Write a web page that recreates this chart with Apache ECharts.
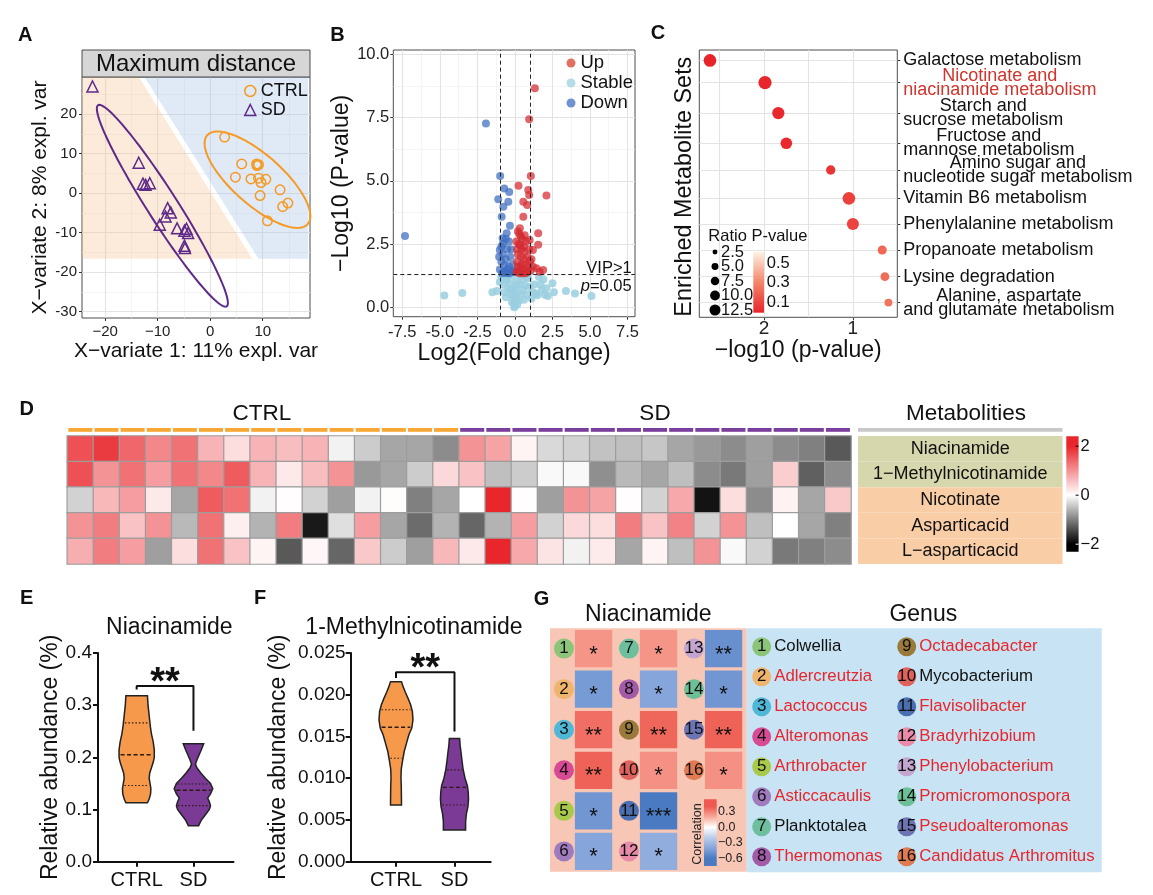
<!DOCTYPE html>
<html>
<head>
<meta charset="utf-8">
<script src="https://cdn.jsdelivr.net/npm/echarts@6.0.0/dist/echarts.min.js"></script>
<style>html,body{margin:0;padding:0;background:#fff;}#chart{width:1153px;height:895px;}</style>
</head>
<body>
<div id="chart"></div>
<script>
const FONT = '"Liberation Sans", Arial, Helvetica, sans-serif';

// ================= DATA =================
// --- Panel A (PLS-DA scores) ---
const aCtrl = [[2.75,14.2],[6.0,7.4],[8.85,7.4],[9.2,7.2],[8.9,7.0],[4.8,4.05],[7.76,3.6],[9.2,3.8],[10.6,3.5],[9.67,2.7],[9.5,-0.6],[13.3,0.84],[14.8,-2.5],[13.8,-3.4],[10.9,-7.0]];
const aSd = [[-22.4,27.0],[-13.6,7.7],[-12.8,2.4],[-12.3,2.1],[-11.5,2.5],[-8.1,-3.8],[-7.5,-4.9],[-8.5,-5.9],[-9.6,-8.0],[-6.3,-8.9],[-4.9,-9.5],[-4.2,-10.1],[-4.9,-13.3],[-4.8,-13.9],[-4.5,-9.0]];
// ellipse: centre x, centre y, half major vector x, y, horizontal half width
const aEllipseCtrl = [9.0, 3.4, 7.6, -12.2, 6.6];
const aEllipseSd = [-9.1, -3.2, 12.0, -25.55, 3.4];
// maximum-distance prediction regions (vertices)
const aRegionLeft = [[-24.4,29.4],[-13.6,29.4],[8.0,-16.6],[-24.4,-16.6]];
const aRegionRight = [[-12.5,29.4],[18.65,29.4],[18.65,-16.6],[9.2,-16.6]];
const aXTicks = [-20,-10,0,10];
const aYTicks = [-30,-20,-10,0,10,20];
const aXMinor = [-15,-5,5,15];
const aYMinor = [-25,-15,-5,5,15,25];

// --- Panel B (volcano) ---
const bUp = [[1.33,8.66],[0.95,7.43],[1.06,5.19],[0.24,4.81],[0.89,4.64],[0.95,4.44],[2.10,4.42],[0.56,4.17],[0.82,4.04],[0.56,3.58],[1.55,2.93],[1.55,2.47],[0.33,3.13],[0.98,2.66],[1.20,2.27],[1.43,1.54],[1.88,1.48],[1.65,1.41],
  [0.10,1.40],[0.15,1.80],[0.20,2.10],[0.25,2.50],[0.30,2.90],[0.35,1.60],[0.40,2.00],[0.45,2.30],[0.50,2.70],[0.55,1.50],[0.60,1.90],[0.65,2.20],[0.70,1.70],[0.75,2.60],[0.80,1.45],[0.85,2.00],[0.90,1.60],[0.20,3.00],[0.30,1.35],[0.50,1.35],[0.70,1.35],[0.10,2.60],[0.40,2.80],[0.60,2.40],[1.00,1.80],[0.95,2.30],[0.20,1.60],[0.45,1.70],[0.85,1.40],[1.10,1.90],[1.20,1.60],[0.15,2.30],[0.35,2.45],[0.65,2.85],[0.25,1.45],[1.05,1.45]];
const bDown = [[-7.32,2.82],[-1.93,7.27],[-0.98,5.19],[-1.11,4.27],[-0.71,4.70],[-0.38,4.56],[-0.44,4.17],[-0.77,3.98],[-0.88,3.58],[-0.33,3.22],[-0.82,2.73],[-0.55,2.93],[-1.00,2.27],
  [-1.00,1.50],[-0.90,1.80],[-0.80,2.10],[-0.70,1.40],[-0.60,1.90],[-0.50,2.30],[-0.40,1.60],[-0.30,2.00],[-0.20,1.45],[-0.50,1.50],[-0.80,2.50],[-0.40,2.60],[-0.15,1.70],[-0.60,2.70],[-0.90,2.40],[-0.35,1.35],[-0.70,1.65],[-1.05,2.00],[-0.25,2.30],[-0.55,1.35],[-0.85,1.35],[-0.10,1.40]];
const bStable = [[-4.7,0.47],[-3.5,0.57],[3.4,0.65],[4.0,0.55],[5.1,0.45],[2.5,0.95],[1.9,1.1],[2.2,0.45],[1.5,0.48],[1.8,0.7],[2.0,0.5],[1.2,0.6],[1.0,0.8],[-1.2,0.65],[-1.5,0.6],[-0.8,0.9],[-0.5,1.1],[0.5,1.1],[0.3,0.9],[0.0,0.05],[0.1,0.3],[-0.1,0.4],[0.2,0.6],[-0.3,0.7],[0.4,0.5],[-0.2,0.2],[0.6,0.3],[-0.6,0.4],[0.8,0.5],[1.3,0.9],[1.6,1.2],[0.9,1.15],[-0.9,1.2],[-0.4,0.95],[0.7,0.85],[-0.7,0.6],[0.0,0.8],[0.05,1.0],[-0.05,0.15],[0.15,0.1],[2.6,0.6],[1.1,0.35],[-1.0,1.0],[0.35,1.25],[-0.15,1.25],[-0.25,0.5],[0.25,0.25],[-0.45,0.75],[0.55,0.7],[0.0,0.35],[-0.1,0.6],[0.1,0.85],[1.4,0.55],[1.7,0.9],[2.1,0.75],[-0.65,1.15],[0.75,1.2],[-0.05,0.0]];
const bXTicks = [-7.5,-5,-2.5,0,2.5,5,7.5];
const bYTicks = [0,2.5,5,7.5,10];
const bXMinor = [-6.25,-3.75,-1.25,1.25,3.75,6.25];
const bYMinor = [1.25,3.75,6.25,8.75];
const bFoldCut = [-1, 1];
const bPCut = 1.3;

// --- Panel C (enrichment) ---
const pathways = ['Galactose metabolism','Nicotinate and\nniacinamide metabolism','Starch and\nsucrose metabolism','Fructose and\nmannose metabolism','Amino sugar and\nnucleotide sugar metabolism','Vitamin B6 metabolism','Phenylalanine metabolism','Propanoate metabolism','Lysine degradation','Alanine, aspartate\nand glutamate metabolism'];
const pathwayPos = [96.1, 87.8, 76.4, 65.1, 55.1, 44.5, 34.9, 25.2, 15.2, 5.5];
const pathwayLogP = [2.61, 1.99, 1.84, 1.75, 1.25, 1.045, 1.0, 0.67, 0.64, 0.60];
const pathwayRatio = [16.5, 18, 15.5, 14, 9, 16.5, 15, 8.5, 8, 6.5];
const pathwayP = [0.0025, 0.010, 0.014, 0.018, 0.056, 0.09, 0.10, 0.21, 0.23, 0.25];
const pathwayHighlight = [1];
const cXTicks = [1, 2];
const cXGrid = [1, 1.5, 2, 2.5];
const cXMin = 0.5, cXMax = 2.73;
const ratioLegend = [2.5, 5.0, 7.5, 10.0, 12.5];
const pLegend = [0.5, 0.3, 0.1];

// --- Panel D (heatmap) ---
const sampleGroups = Array(15).fill('CTRL').concat(Array(15).fill('SD'));
const samples = sampleGroups.map((g, i) => g + (i % 15 + 1));
const metabolites = ['Niacinamide','1−Methylnicotinamide','Nicotinate','Asparticacid','L−asparticacid'];
const metabClass = [0, 0, 1, 1, 1];
const heatRows = [
  [1.6,1.8,1.4,1.1,1.3,0.7,0.3,0.7,0.6,0.7,-0.1,-0.4,-0.7,-0.7,-0.9, 1.0,0.85,0.1,-0.3,-0.35,-0.48,-0.5,-0.45,-0.7,-0.8,-0.9,-0.75,-0.9,-1.0,-1.3],
  [1.6,1.0,1.3,0.9,1.3,1.1,1.5,0.7,0.2,0.6,1.0,-0.8,-0.7,-0.4,0.35, 0.55,-0.5,-0.4,-0.05,-0.05,-0.88,-0.55,-0.7,-0.5,-0.9,-1.05,-0.75,0.45,-1.25,-0.9],
  [-0.35,0.65,0.9,0.2,-0.7,1.5,1.3,-0.1,0.02,-0.35,-0.75,-0.1,0.03,-1.0,-0.7, 0.0,2.0,0.02,-0.75,1.0,0.85,0.02,-0.35,0.8,-1.85,0.3,-0.9,0.12,-0.7,0.5],
  [1.0,1.2,0.55,1.0,-0.55,1.3,0.15,-0.6,1.2,-1.8,-0.25,0.9,-0.7,-1.15,-0.6, -1.2,-0.6,0.9,-0.35,0.35,0.3,1.2,0.55,1.15,-0.35,1.0,-0.5,0.0,-0.7,-1.0],
  [0.75,1.2,0.9,-0.75,0.3,1.3,0.55,0.1,-1.3,0.08,-1.2,0.5,-0.4,-0.75,0.65, 0.2,2.0,0.8,0.25,-0.1,0.18,-0.7,0.1,-0.5,1.0,-0.05,-0.35,-1.05,-1.0,-0.9]
];
const heatLegend = [2, 0, -2];

// --- Panels E / F (violins) ---
const groups = ['CTRL', 'SD'];
const eCtrlProfile = [[0.318,0.19],[0.30,0.20],[0.28,0.22],[0.26,0.24],[0.245,0.26],[0.23,0.29],[0.215,0.31],[0.20,0.31],[0.19,0.29],[0.18,0.26],[0.17,0.23],[0.16,0.22],[0.15,0.235],[0.14,0.25],[0.13,0.245],[0.12,0.22],[0.113,0.19]];
const eSdProfile = [[0.226,0.18],[0.215,0.14],[0.205,0.10],[0.195,0.06],[0.187,0.035],[0.18,0.06],[0.17,0.13],[0.16,0.21],[0.15,0.30],[0.14,0.34],[0.13,0.30],[0.122,0.25],[0.115,0.28],[0.107,0.30],[0.10,0.28],[0.09,0.21],[0.08,0.14],[0.069,0.09]];
const eCtrlQ = [0.146, 0.205, 0.266];
const eSdQ = [0.1075, 0.137, 0.149];
const eBracket = [[0,0.330],[0,0.3366],[1,0.3366],[1,0.251]];
const fCtrlProfile = [[0.02157,0.094],[0.0210,0.12],[0.0203,0.16],[0.0195,0.21],[0.0188,0.25],[0.0180,0.28],[0.0170,0.29],[0.0160,0.27],[0.0152,0.22],[0.0142,0.18],[0.0132,0.14],[0.0120,0.11],[0.0111,0.09],[0.0100,0.085],[0.0091,0.09],[0.0080,0.092],[0.0068,0.094]];
const fSdProfile = [[0.01477,0.088],[0.0140,0.095],[0.0132,0.11],[0.0120,0.13],[0.0111,0.147],[0.0100,0.18],[0.0091,0.22],[0.0083,0.235],[0.0075,0.24],[0.0066,0.23],[0.0058,0.205],[0.0048,0.19],[0.0038,0.19]];
const fCtrlQ = [0.0124, 0.0161, 0.0182];
const fSdQ = [0.0068, 0.0089, 0.0110];
const fBracket = [[0,0.0220],[0,0.02269],[1,0.02269],[1,0.0156]];

// --- Panel G (genus correlation) ---
const genera = ['Colwellia','Adlercreutzia','Lactococcus','Alteromonas','Arthrobacter','Asticcacaulis','Planktotalea','Thermomonas','Octadecabacter','Mycobacterium','Flavisolibacter','Bradyrhizobium','Phenylobacterium','Promicromonospora','Pseudoalteromonas','Candidatus Arthromitus'];
const genusCorr = [0.25,-0.45,0.35,0.38,-0.47,-0.40,0.25,-0.40,0.37,0.26,-0.60,-0.36,-0.50,-0.47,0.38,0.26];
const genusStars = ['*','*','**','**','*','*','*','*','**','*','***','*','**','*','**','*'];
const genusHighlight = [0,1,1,1,1,1,0,1,1,0,1,1,1,1,1,1];
const corrLegend = [0.3, 0.0, -0.3, -0.6];

// ================= STYLES =================
const A_ORANGE = '#f59a23', A_PURPLE = '#5e2a8a';
const V_ORANGE = '#f7994b', V_PURPLE = '#7b3a96';
const D_ORANGE = '#f7a733', D_PURPLE = '#7b3e9c';
const genusColors = ['#8cc47a','#f0b56c','#4fb8d8','#d84a94','#a8c94a','#a07bbd','#6dbf9e','#a35aa8','#9a7a3a','#e0625c','#4a6fb0','#e88aa8','#c3a5cf','#6cbf96','#6c74b4','#e07a52'];
const TXT = '#111';
const sizeOf = r => 3.11 * Math.sqrt(r);

// ================= HELPERS =================
const series = [];
const add = s => { series.push(Object.assign({animation:false, emphasis:{disabled:true}}, s)); return series.length - 1; };
function gridLines(xMaj, xMin, yMaj, yMin) {
  const d = [];
  const minor = {color:'#f1f1f1', width:0.7, type:'solid'};
  const major = {color:'#e3e3e3', width:1.1, type:'solid'};
  xMin.forEach(v => d.push({xAxis:v, lineStyle:minor}));
  yMin.forEach(v => d.push({yAxis:v, lineStyle:minor}));
  xMaj.forEach(v => d.push({xAxis:v, lineStyle:major}));
  yMaj.forEach(v => d.push({yAxis:v, lineStyle:major}));
  return {silent:true, symbol:['none','none'], label:{show:false}, z:1, animation:false, data:d, emphasis:{disabled:true}};
}
function halfWidthAt(prof, v) {
  for (let k = 0; k < prof.length - 1; k++) {
    const [v1, h1] = prof[k], [v2, h2] = prof[k + 1];
    if (v <= v1 && v >= v2) { const t = (v - v1) / (v2 - v1); return h1 + t * (h2 - h1); }
  }
  return 0;
}
function violinRender(profiles, quarts, colors) {
  return function (params, api) {
    const i = params.dataIndex;
    const prof = profiles[i];
    const left = prof.map(p => api.coord([i - p[1], p[0]]));
    const right = prof.slice().reverse().map(p => api.coord([i + p[1], p[0]]));
    const children = [{type:'polygon', shape:{points:left.concat(right)}, style:{fill:colors[i], stroke:'#222', lineWidth:1.5}}];
    quarts[i].forEach((q, k) => {
      const hw = halfWidthAt(prof, q);
      const a = api.coord([i - hw, q]), b = api.coord([i + hw, q]);
      children.push({type:'line', shape:{x1:a[0] + 1.5, y1:a[1], x2:b[0] - 1.5, y2:b[1]},
        style:{stroke:'#2a1a10', lineWidth:k === 1 ? 1.4 : 1.1, lineDash:k === 1 ? [4, 2.5] : [1.5, 2]}});
    });
    return {type:'group', children};
  };
}
function txt(text, x, y, size, o) {
  o = o || {};
  const al = o.align || 'center', va = o.va || 'middle';
  return {type:'text', x, y, rotation:o.rot || 0, z:50, silent:true,
    style:{text, fill:o.color || TXT, fontSize:size, fontFamily:FONT, fontWeight:o.weight || 'normal',
      align:al, verticalAlign:va, textAlign:al, textVerticalAlign:va, rich:o.rich}};
}
function rect(x, y, w, h, fill, stroke, lw) {
  return {type:'rect', z:40, silent:true, shape:{x, y, width:w, height:h}, style:{fill, stroke:stroke || null, lineWidth:lw || 0}};
}
function grad(stops) { return new echarts.graphic.LinearGradient(0, 0, 0, 1, stops.map(s => ({offset:s[0], color:s[1]}))); }

// ================= SERIES =================
// Panel A
add({type:'custom', name:'regions', xAxisIndex:0, yAxisIndex:0, z:2, silent:true,
  data:[[0,0],[1,0]],
  renderItem:(params, api) => {
    const reg = [aRegionLeft, aRegionRight][params.dataIndex];
    return {type:'polygon', shape:{points:reg.map(p => api.coord(p))},
      style:{fill:['rgba(247,190,140,0.32)','rgba(160,190,230,0.33)'][params.dataIndex]}};
  }});
add({type:'custom', name:'ellipses', xAxisIndex:0, yAxisIndex:0, z:3, silent:true,
  data:[aEllipseCtrl, aEllipseSd],
  renderItem:(params, api) => {
    const cx = api.value(0), cy = api.value(1), ax = api.value(2), ay = api.value(3), b = api.value(4);
    const pts = [];
    for (let k = 0; k <= 120; k++) {
      const t = 2 * Math.PI * k / 120;
      pts.push(api.coord([cx + ax * Math.cos(t) + b * Math.sin(t), cy + ay * Math.cos(t)]));
    }
    return {type:'polyline', shape:{points:pts}, style:{stroke:[A_ORANGE, A_PURPLE][params.dataIndex], lineWidth:2, fill:null}};
  }});
add({type:'scatter', name:'CTRL', xAxisIndex:0, yAxisIndex:0, z:4, data:aCtrl, symbol:'circle', symbolSize:9.5,
  itemStyle:{color:'rgba(0,0,0,0)', borderColor:A_ORANGE, borderWidth:1.5, opacity:1},
  markLine:gridLines(aXTicks, aXMinor, aYTicks, aYMinor)});
add({type:'scatter', name:'SD', xAxisIndex:0, yAxisIndex:0, z:4, data:aSd, symbol:'triangle', symbolSize:11,
  itemStyle:{color:'rgba(0,0,0,0)', borderColor:A_PURPLE, borderWidth:1.5, opacity:1}});

// Panel B
add({type:'scatter', name:'Stable', xAxisIndex:1, yAxisIndex:1, z:3, data:bStable, symbolSize:8,
  itemStyle:{color:'#9acfe0', opacity:0.85},
  markLine:{silent:true, symbol:['none','none'], label:{show:false}, z:6, animation:false,
    lineStyle:{type:[4,3], color:'#222', width:1},
    data:bFoldCut.map(v => ({xAxis:v})).concat([{yAxis:bPCut}])}});
add({type:'scatter', name:'Down', xAxisIndex:1, yAxisIndex:1, z:4, data:bDown, symbolSize:8,
  itemStyle:{color:'#3b6cc0', opacity:0.72}});
add({type:'scatter', name:'Up', xAxisIndex:1, yAxisIndex:1, z:4, data:bUp, symbolSize:8,
  itemStyle:{color:'#d42a30', opacity:0.72},
  markLine:gridLines(bXTicks, bXMinor, bYTicks, bYMinor)});

// Panel C
const cIdx = add({type:'scatter', name:'pathways', xAxisIndex:2, yAxisIndex:2, z:3,
  data:pathwayLogP.map((x, i) => [x, pathwayPos[i], pathwayRatio[i], pathwayP[i]]),
  symbolSize:v => sizeOf(v[2]), itemStyle:{opacity:1},
  markLine:gridLines(cXGrid, [], pathwayPos, [])});
// category labels, anchored at the right edge of the panel at each set's position
const cRich = {
  k:{align:'center', fontSize:18, lineHeight:14, color:TXT, fontFamily:FONT},
  r:{align:'center', fontSize:18, lineHeight:14, color:'#d0342c', fontFamily:FONT}
};
add({type:'scatter', name:'pathwayLabels', xAxisIndex:2, yAxisIndex:2, z:3, silent:true, symbolSize:0, clip:false,
  itemStyle:{opacity:1},
  data:pathways.map((p, i) => ({value:[cXMin, pathwayPos[i]], name:p})),
  label:{show:true, position:'right', distance:6, rich:cRich,
    formatter:params => {
      const i = params.dataIndex;
      const st = pathwayHighlight.indexOf(i) >= 0 ? 'r' : 'k';
      return pathways[i].split('\n').map(l => '{' + st + '|' + l + '}').join('\n');
    }}});

// Panel D
const heatData = [];
heatRows.forEach((row, r) => row.forEach((v, c) => heatData.push([c, r, v])));
const dIdx = add({type:'heatmap', xAxisIndex:3, yAxisIndex:3, data:heatData,
  itemStyle:{borderColor:'#9d9d9d', borderWidth:1.2}});
add({type:'bar', xAxisIndex:4, yAxisIndex:4, barCategoryGap:'8%',
  data:sampleGroups.map(g => ({value:1, itemStyle:{color:g === 'CTRL' ? D_ORANGE : D_PURPLE}}))});
add({type:'bar', xAxisIndex:5, yAxisIndex:5, barWidth:'100%',
  data:metabolites.map((m, i) => ({value:1, name:m, itemStyle:{color:metabClass[i] === 0 ? '#d6d7ad' : '#f9cea7'}})),
  label:{show:true, position:'inside', formatter:'{b}', fontSize:18, color:TXT}});

// Panels E, F
function violinPanel(ax, profiles, quarts, bracket) {
  add({type:'custom', xAxisIndex:ax, yAxisIndex:ax, z:3, silent:true, data:[[0,0],[1,0]],
    renderItem:violinRender(profiles, quarts, [V_ORANGE, V_PURPLE])});
  add({type:'line', xAxisIndex:ax, yAxisIndex:ax, z:4, data:bracket, symbol:'none', silent:true,
    lineStyle:{color:'#111', width:2}});
  add({type:'scatter', xAxisIndex:ax, yAxisIndex:ax, z:5, silent:true, symbolSize:0, itemStyle:{opacity:1},
    data:[[(bracket[1][0] + bracket[2][0]) / 2, bracket[1][1]]],
    label:{show:true, position:'inside', formatter:'**', fontSize:38, fontWeight:'bold', color:TXT, offset:[0,-3]}});
}
violinPanel(6, [eCtrlProfile, eSdProfile], [eCtrlQ, eSdQ], eBracket);
violinPanel(7, [fCtrlProfile, fSdProfile], [fCtrlQ, fSdQ], fBracket);

// Panel G
const gIdx = add({type:'scatter', xAxisIndex:8, yAxisIndex:8, z:3, symbol:'rect', symbolSize:[37.3, 37.3],
  itemStyle:{opacity:1},
  data:genusCorr.map((c, i) => ({value:[Math.floor(i / 6) + 0.67, i % 6 + 0.5, c], name:genusStars[i]})),
  label:{show:true, position:'inside', formatter:'{b}', fontSize:22, color:TXT, offset:[0, 6]}});
add({type:'scatter', xAxisIndex:8, yAxisIndex:8, z:3, symbol:'circle', symbolSize:20,
  data:genera.map((g, i) => ({value:[Math.floor(i / 6) + 0.215, i % 6 + 0.5], name:String(i + 1), itemStyle:{color:genusColors[i], opacity:1}})),
  label:{show:true, position:'inside', formatter:'{b}', fontSize:17, color:TXT}});
add({type:'scatter', xAxisIndex:9, yAxisIndex:9, z:3, symbol:'circle', symbolSize:19,
  data:genera.map((g, i) => ({value:[Math.floor(i / 8) + 0.1034, i % 8 + 0.613], name:String(i + 1), itemStyle:{color:genusColors[i], opacity:1}})),
  label:{show:true, position:'inside', formatter:'{b}', fontSize:17, color:TXT}});
add({type:'scatter', xAxisIndex:9, yAxisIndex:9, z:3, symbolSize:0, itemStyle:{opacity:1},
  data:genera.map((g, i) => ({value:[Math.floor(i / 8) + 0.1034, i % 8 + 0.613], name:g,
    label:{color:genusHighlight[i] ? '#e8252b' : TXT}})),
  label:{show:true, position:'right', distance:12.5, formatter:'{b}', fontSize:16.8}});

// ================= AXES =================
const tickStyle = {color:'#333', width:1};
const xAxis = [
  {gridIndex:0, type:'value', min:-24.4, max:19, axisLine:{show:false, onZero:false}, splitLine:{show:false},
    axisTick:{show:true, customValues:aXTicks, length:3, lineStyle:tickStyle},
    axisLabel:{customValues:aXTicks, showMinLabel:true, showMaxLabel:true, formatter:v => v < 0 ? '−' + Math.abs(v) : String(v), fontSize:15, color:'#222', margin:6},
    name:'X−variate 1: 11% expl. var', nameLocation:'middle', nameGap:23, nameTextStyle:{fontSize:21, color:TXT}},
  {gridIndex:1, type:'value', min:-8.1, max:8.0, axisLine:{show:false, onZero:false}, splitLine:{show:false},
    axisTick:{show:true, customValues:bXTicks, length:3, lineStyle:tickStyle},
    axisLabel:{customValues:bXTicks, showMinLabel:true, showMaxLabel:true, formatter:v => v.toFixed(1), fontSize:16.5, color:'#222', margin:7},
    name:'Log2(Fold change)', nameLocation:'middle', nameGap:25, nameTextStyle:{fontSize:23, color:TXT}},
  {gridIndex:2, type:'value', inverse:true, min:cXMin, max:cXMax, axisLine:{show:false, onZero:false}, splitLine:{show:false},
    axisTick:{show:true, customValues:cXTicks, length:3, lineStyle:tickStyle},
    axisLabel:{customValues:cXTicks, showMinLabel:true, showMaxLabel:true, formatter:v => String(v), fontSize:19, color:'#222', margin:2},
    name:'−log10 (p-value)', nameLocation:'middle', nameGap:16, nameTextStyle:{fontSize:23, color:TXT}},
  {gridIndex:3, type:'category', data:samples, show:false},
  {gridIndex:4, type:'category', data:samples, show:false},
  {gridIndex:5, type:'value', min:0, max:1, show:false},
  {gridIndex:6, type:'value', min:-0.681, max:1.705, axisLine:{onZero:false, lineStyle:{color:TXT, width:2}}, splitLine:{show:false},
    axisTick:{customValues:[0, 1], length:5, lineStyle:{color:TXT, width:2}},
    axisLabel:{customValues:[0, 1], showMinLabel:true, showMaxLabel:true, formatter:v => groups[Math.round(v)], fontSize:20, color:TXT, margin:9}},
  {gridIndex:7, type:'value', min:-0.776, max:1.619, axisLine:{onZero:false, lineStyle:{color:TXT, width:2}}, splitLine:{show:false},
    axisTick:{customValues:[0, 1], length:5, lineStyle:{color:TXT, width:2}},
    axisLabel:{customValues:[0, 1], showMinLabel:true, showMaxLabel:true, formatter:v => groups[Math.round(v)], fontSize:20, color:TXT, margin:9}},
  {gridIndex:8, type:'value', min:0, max:3.026, show:false},
  {gridIndex:9, type:'value', min:0, max:2.448, show:false}
];
const yAxis = [
  {gridIndex:0, type:'value', min:-31.6, max:29.4, axisLine:{show:false, onZero:false}, splitLine:{show:false},
    axisTick:{show:true, customValues:aYTicks, length:3, lineStyle:tickStyle},
    axisLabel:{customValues:aYTicks, showMinLabel:true, showMaxLabel:true, formatter:v => String(v), fontSize:15, color:'#222', margin:5},
    name:'X−variate 2: 8% expl. var', nameLocation:'middle', nameGap:31.5, nameTextStyle:{fontSize:21, color:TXT}},
  {gridIndex:1, type:'value', min:-0.37, max:10.17, axisLine:{show:false, onZero:false}, splitLine:{show:false},
    axisTick:{show:true, customValues:bYTicks, length:3, lineStyle:tickStyle},
    axisLabel:{customValues:bYTicks, showMinLabel:true, showMaxLabel:true, formatter:v => v.toFixed(1), fontSize:16.5, color:'#222', margin:4},
    name:'−Log10 (P-value)', nameLocation:'middle', nameGap:21.8, nameTextStyle:{fontSize:23, color:TXT}},
  {gridIndex:2, type:'value', position:'right', min:0, max:100, axisLine:{show:false, onZero:false}, splitLine:{show:false},
    axisTick:{show:true, customValues:pathwayPos, length:3, lineStyle:tickStyle},
    axisLabel:{show:false}},
  {gridIndex:3, type:'category', data:metabolites, inverse:true, show:false},
  {gridIndex:4, type:'value', min:0, max:1, show:false},
  {gridIndex:5, type:'category', data:metabolites, inverse:true, show:false},
  {gridIndex:6, type:'value', min:0, max:0.4, interval:0.1, splitLine:{show:false},
    axisLine:{show:true, onZero:false, lineStyle:{color:TXT, width:2}},
    axisTick:{show:true, length:5, lineStyle:{color:TXT, width:2}},
    axisLabel:{formatter:v => v.toFixed(1), fontSize:19, color:TXT, margin:6},
    name:'Relative abundance (%)', nameLocation:'middle', nameGap:34.6, nameTextStyle:{fontSize:23, color:TXT}},
  {gridIndex:7, type:'value', min:0, max:0.025, interval:0.005, splitLine:{show:false},
    axisLine:{show:true, onZero:false, lineStyle:{color:TXT, width:2}},
    axisTick:{show:true, length:5, lineStyle:{color:TXT, width:2}},
    axisLabel:{formatter:v => v.toFixed(3), fontSize:19, color:TXT, margin:5},
    name:'Relative abundance (%)', nameLocation:'middle', nameGap:60, nameTextStyle:{fontSize:23, color:TXT}},
  {gridIndex:8, type:'value', min:0, max:6, inverse:true, show:false},
  {gridIndex:9, type:'value', min:0, max:8.133, inverse:true, show:false}
];

// ================= GRAPHICS (titles, legends, colour bars) =================
const g = [];
[['A',25.3,35],['B',337.5,35],['C',658,33],['D',26.8,409],['E',26.7,598],['F',260,598],['G',541.5,599]]
  .forEach(l => g.push(txt(l[0], l[1], l[2], 20, {weight:'bold'})));
// A strip
g.push(rect(82, 50, 228, 27, '#d6d6d6', '#4d4d4d', 1));
g.push(txt('Maximum distance', 196, 64, 24));
// B thresholds text
g.push(txt('VIP>1', 631.7, 268.3, 16.5, {align:'right'}));
g.push(txt('{i|p}=0.05', 631.7, 286.7, 16.5, {align:'right', rich:{i:{fontStyle:'italic', fontSize:16.5, fontFamily:FONT, fill:TXT, color:TXT}}}));
// C y title + legends
g.push(txt('Enriched Metabolite Sets', 685, 186.7, 23.4, {rot:Math.PI / 2}));
g.push(txt('Ratio P-value', 708.3, 236, 16.5, {align:'left'}));
ratioLegend.forEach((r, i) => {
  const y = 252 + 14.5 * i;
  g.push({type:'circle', z:40, silent:true, shape:{cx:715, cy:y, r:sizeOf(r) / 2}, style:{fill:'#000'}});
  g.push(txt(r.toFixed(1), 721, y, 16.5, {align:'left'}));
});
g.push({type:'rect', z:41, silent:true, shape:{x:753.3, y:251.7, width:10.7, height:61},
  style:{fill:grad([[0,'#fdf3e6'],[0.5,'#f4866a'],[1,'#e8232a']])}});
pLegend.forEach(p => g.push(txt(p.toFixed(1), 766.7, 312.7 - p / 0.615 * 61, 16.5, {align:'left'})));
// D titles, annotation header, colour bar
g.push(txt('CTRL', 262, 414, 22.5));
g.push(txt('SD', 655, 414, 22.5));
g.push(txt('Metabolities', 966, 414, 22.5));
g.push(rect(858, 428, 204.5, 3.8, '#c8c8c8'));
g.push({type:'rect', z:41, silent:true, shape:{x:1066.3, y:436.3, width:12.3, height:115.4},
  style:{fill:grad([[0,'#e8262b'],[0.086,'#e8262b'],[0.51,'#ffffff'],[0.935,'#000000'],[1,'#000000']])}});
heatLegend.forEach(v => {
  const y = 495.2 - v * 24.5;
  g.push({type:'line', z:42, silent:true, shape:{x1:1075.6, y1:y, x2:1078.6, y2:y}, style:{stroke:v < 0 ? '#fff' : '#000', lineWidth:1}});
  g.push(txt(v < 0 ? '−' + Math.abs(v) : String(v), 1080.5, y, 16.5, {align:'left'}));
});
// E / F titles
g.push(txt('Niacinamide', 169.3, 628, 23));
g.push(txt('1-Methylnicotinamide', 414, 628, 23));
// G titles and colour bar
g.push(txt('Niacinamide', 648.3, 615, 23));
g.push(txt('Genus', 923.3, 615, 23));
g.push({type:'rect', z:41, silent:true, shape:{x:704, y:799.3, width:12.7, height:66.7},
  style:{fill:grad([[0,'#ee5a50'],[0.109,'#ee5a50'],[0.264,'#f7a99a'],[0.419,'#ffffff'],[0.574,'#bccde9'],[0.729,'#86a5da'],[0.884,'#4a7bc2'],[1,'#4a7bc2']])}});
corrLegend.forEach(v => g.push(txt(v < 0 ? '−' + Math.abs(v).toFixed(1) : v.toFixed(1), 718, 827.2 - 51.8 * v, 12.5, {align:'left', color:'#222'})));
g.push(txt('Correlation', 697.3, 834, 12.6, {rot:Math.PI / 2, color:'#222'}));

// ================= OPTION =================
const option = {
  animation:false,
  backgroundColor:'#ffffff',
  textStyle:{fontFamily:FONT},
  grid:[
    {left:82, top:77, width:228, height:241, show:true, borderColor:'#4d4d4d', borderWidth:1, backgroundColor:'rgba(0,0,0,0)'},
    {left:393.3, top:50, width:241.7, height:266.7, show:true, borderColor:'#4d4d4d', borderWidth:1, backgroundColor:'rgba(0,0,0,0)'},
    {left:699.3, top:50, width:198, height:267.3, show:true, borderColor:'#4d4d4d', borderWidth:1, backgroundColor:'rgba(0,0,0,0)'},
    {left:67.3, top:436, width:783.7, height:128},
    {left:67.3, top:428, width:783.7, height:3.8},
    {left:858, top:436, width:204.5, height:128},
    {left:98, top:653, width:135.5, height:208.7},
    {left:350.6, top:653, width:140.1, height:208.7},
    {left:550, top:628.3, width:196.7, height:243.4, show:true, backgroundColor:'#f7c6b4', borderWidth:0},
    {left:746.7, top:628.3, width:355, height:244, show:true, backgroundColor:'#c8e4f4', borderWidth:0}
  ],
  xAxis, yAxis,
  legend:[
    {data:[{name:'CTRL', icon:'circle', itemStyle:{color:'rgba(0,0,0,0)', borderColor:A_ORANGE, borderWidth:1.5}},
           {name:'SD', icon:'triangle', itemStyle:{color:'rgba(0,0,0,0)', borderColor:A_PURPLE, borderWidth:1.5}}],
     orient:'vertical', left:244, top:82, padding:0, itemWidth:11, itemHeight:11, itemGap:1, selectedMode:false,
     textStyle:{fontSize:18, color:TXT}},
    {data:[{name:'Up', itemStyle:{color:'#e0705f', opacity:1}},
           {name:'Stable', itemStyle:{color:'#b3dce8', opacity:1}},
           {name:'Down', itemStyle:{color:'#6f93d2', opacity:1}}],
     orient:'vertical', left:566.5, top:53.5, padding:0, itemWidth:9, itemHeight:9, itemGap:1, selectedMode:false, icon:'circle',
     textStyle:{fontSize:18.5, color:TXT}}
  ],
  visualMap:[
    {type:'continuous', show:false, seriesIndex:dIdx, dimension:2, min:-2, max:2, inRange:{color:['#000000','#ffffff','#e8262b']}},
    {type:'continuous', show:false, seriesIndex:cIdx, dimension:3, min:0, max:0.615, inRange:{color:['#e8232a','#f4866a','#fdf3e6']}},
    {type:'continuous', show:false, seriesIndex:gIdx, dimension:2, min:-0.6, max:0.4, inRange:{color:['#4a7bc2','#86a5da','#bccde9','#ffffff','#f7a99a','#ee5a50']}}
  ],
  series,
  graphic:{elements:g}
};

const chart = echarts.init(document.getElementById('chart'), null, {renderer:'canvas', width:1153, height:895});
chart.setOption(option);
</script>
</body>
</html>
